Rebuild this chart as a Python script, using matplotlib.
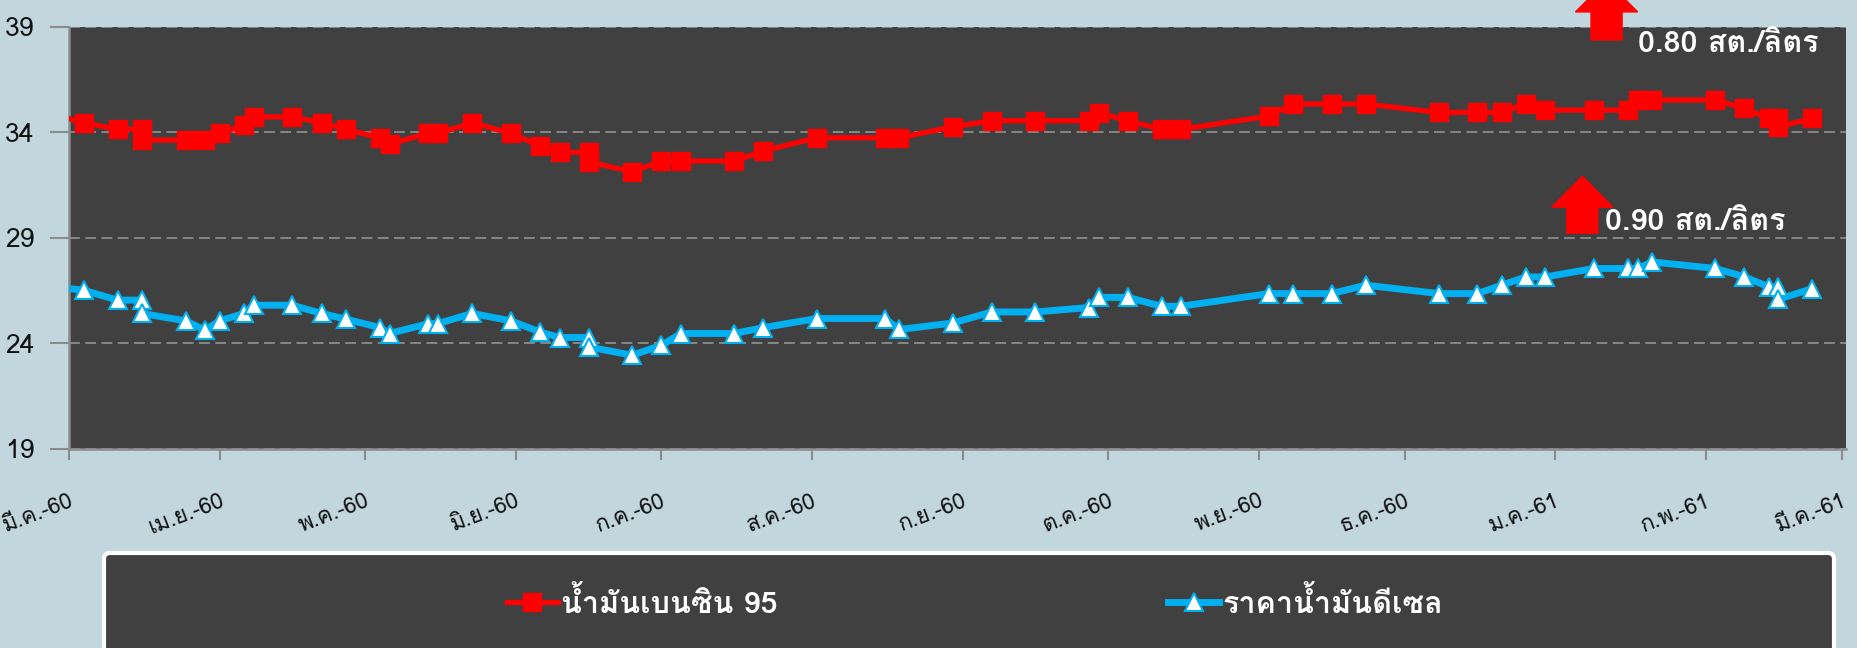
import matplotlib
matplotlib.use('Agg')
import matplotlib.pyplot as plt
import matplotlib.dates as mdates
from matplotlib import font_manager
from matplotlib.patches import FancyArrow, FancyBboxPatch
from matplotlib.transforms import IdentityTransform, ScaledTranslation
import numpy as np

# price data (baht/litre)
dates = ['2017-02-25', '2017-03-04', '2017-03-11', '2017-03-16', '2017-03-16',
         '2017-03-25', '2017-03-29', '2017-04-01', '2017-04-06', '2017-04-08',
         '2017-04-16', '2017-04-22', '2017-04-27', '2017-05-04', '2017-05-06',
         '2017-05-14', '2017-05-16', '2017-05-23', '2017-05-31', '2017-06-06',
         '2017-06-10', '2017-06-16', '2017-06-16', '2017-06-25', '2017-07-01',
         '2017-07-05', '2017-07-16', '2017-07-22', '2017-08-02', '2017-08-16',
         '2017-08-19', '2017-08-30', '2017-09-07', '2017-09-16', '2017-09-27',
         '2017-09-29', '2017-10-05', '2017-10-12', '2017-10-16', '2017-11-03',
         '2017-11-08', '2017-11-16', '2017-11-23', '2017-12-08', '2017-12-16',
         '2017-12-21', '2017-12-26', '2017-12-30', '2018-01-09', '2018-01-16',
         '2018-01-18', '2018-01-21', '2018-02-03', '2018-02-09', '2018-02-14',
         '2018-02-16', '2018-02-16', '2018-02-23']
benzin95 = [34.90, 34.45, 34.14, 34.14, 33.63, 33.63, 33.63, 33.95, 34.34, 34.73,
            34.73, 34.45, 34.14, 33.74, 33.44, 33.95, 33.95, 34.45, 33.95, 33.35,
            33.05, 33.05, 32.60, 32.13, 32.64, 32.64, 32.64, 33.12, 33.74, 33.74,
            33.74, 34.26, 34.55, 34.55, 34.55, 34.92, 34.55, 34.14, 34.14, 34.77,
            35.34, 35.34, 35.34, 34.94, 34.94, 34.94, 35.34, 35.05, 35.05, 35.05,
            35.53, 35.53, 35.53, 35.13, 34.66, 34.66, 34.26, 34.66]
diesel = [26.70, 26.52, 26.05, 26.05, 25.42, 25.07, 24.63, 25.07, 25.42, 25.81,
          25.81, 25.42, 25.15, 24.75, 24.47, 24.94, 24.94, 25.42, 25.07, 24.54,
          24.28, 24.28, 23.83, 23.44, 23.91, 24.47, 24.47, 24.75, 25.18, 25.18,
          24.66, 24.97, 25.49, 25.49, 25.70, 26.18, 26.18, 25.76, 25.76, 26.36,
          26.36, 26.36, 26.76, 26.36, 26.36, 26.76, 27.15, 27.15, 27.55, 27.55,
          27.55, 27.86, 27.55, 27.15, 26.68, 26.68, 26.09, 26.60]

month_ticks = ['2017-03-01', '2017-04-01', '2017-05-01', '2017-06-01', '2017-07-01',
               '2017-08-01', '2017-09-01', '2017-10-01', '2017-11-01', '2017-12-01',
               '2018-01-01', '2018-02-01', '2018-03-01']
month_labels = ['มี.ค.-60', 'เม.ย.-60', 'พ.ค.-60', 'มิ.ย.-60', 'ก.ค.-60', 'ส.ค.-60',
                'ก.ย.-60', 'ต.ค.-60', 'พ.ย.-60', 'ธ.ค.-60', 'ม.ค.-61', 'ก.พ.-61',
                'มี.ค.-61']
y_ticks = [19, 24, 29, 34, 39]

series_names = ['น้ำมันเบนซิน 95', 'ราคาน้ำมันดีเซล']
change_labels = ['0.80 สต./ลิตร', '0.90 สต./ลิตร']

BG = '#C1D6DD'
PLOT_BG = '#404040'
RED = '#FF0000'
BLUE = '#00B0F0'
GREY = '#8C8C8C'


def find_thai_font():
    """Return the name of an installed font that has Thai glyphs."""
    try:
        from fontTools.ttLib import TTFont
    except ImportError:
        return None
    for f in font_manager.fontManager.ttflist:
        try:
            font = TTFont(f.fname, fontNumber=0, lazy=True)
            cmap = font.getBestCmap()
        except Exception:
            continue
        if cmap and 0x0E19 in cmap and 0x0030 in cmap:
            return f.name
    return None


thai = find_thai_font()
families = [thai, 'DejaVu Sans'] if thai else ['DejaVu Sans']
plt.rcParams['font.family'] = families

x = mdates.date2num(np.array(dates, dtype='datetime64[D]'))
tick_x = mdates.date2num(np.array(month_ticks, dtype='datetime64[D]'))

fig = plt.figure(figsize=(18.58, 6.48), dpi=100, facecolor=BG)
ax = fig.add_axes([69 / 1858, 1 - 449 / 648, 1777 / 1858, 422.3 / 648])
ax.set_facecolor(PLOT_BG)

line_b, = ax.plot(x, benzin95, color=RED, lw=3.8, marker='s', markersize=13,
                  markerfacecolor=RED, markeredgecolor=RED, zorder=3,
                  label=series_names[0])
line_d, = ax.plot(x, diesel, color=BLUE, lw=5, marker='^', markersize=13,
                  markerfacecolor='white', markeredgecolor=BLUE, markeredgewidth=1.5,
                  zorder=3, label=series_names[1])

ax.set_xlim(tick_x[0], tick_x[-1] + 0.9)
ax.set_ylim(19, 39)
ax.set_yticks(y_ticks)
ax.set_xticks(tick_x)
ax.set_xticklabels(month_labels, rotation=21, ha='right', va='top',
                   rotation_mode='anchor')
# labels sit a little to the right of their tick, as in the original
shift = ScaledTranslation(9 / 100, 0, fig.dpi_scale_trans)
for lab in ax.get_xticklabels():
    lab.set_transform(lab.get_transform() + shift)

ax.grid(axis='y', color=GREY, lw=1.3, dashes=(6, 3))
ax.set_axisbelow(True)

for side in ['top', 'right']:
    ax.spines[side].set_visible(False)
for side in ['left', 'bottom']:
    ax.spines[side].set_color(GREY)
    ax.spines[side].set_linewidth(1.8)

ax.tick_params(axis='y', length=14, width=1.5, color=GREY, pad=11, labelsize=19,
               labelcolor='#111111')
ax.tick_params(axis='x', length=8, width=1.5, color=GREY, pad=22, labelsize=16,
               labelcolor='#111111')

# red "price up" arrows with the change amounts
arrow_x = mdates.date2num(np.array(['2018-01-06', '2018-01-11'], dtype='datetime64[D]'))
ax.add_patch(FancyArrow(arrow_x[1] + 0.6, 38.37, 0, 2.8, width=6.4, head_width=12.8,
                        head_length=1.47, length_includes_head=True, color=RED,
                        clip_on=False, zorder=6))
ax.add_patch(FancyArrow(arrow_x[0] + 0.6, 29.22, 0, 2.7, width=6.4, head_width=12.6,
                        head_length=1.47, length_includes_head=True, color=RED,
                        clip_on=False, zorder=6))
ax.text(arrow_x[1] + 7.0, 38.2, change_labels[0], color='white', fontsize=22,
        fontweight='bold', ha='left', va='center', zorder=7)
ax.text(arrow_x[0] + 5.2, 29.74, change_labels[1], color='white', fontsize=22,
        fontweight='bold', ha='left', va='center', zorder=7)

# legend panel at the bottom
fig.add_artist(FancyBboxPatch((104, -60), 1730, 155,
                              boxstyle='round,pad=0,rounding_size=6',
                              transform=IdentityTransform(), facecolor=PLOT_BG,
                              edgecolor='white', linewidth=3, zorder=1))
leg = fig.legend(handles=[line_b, line_d], labels=series_names, loc='center',
                 bbox_to_anchor=(975 / 1858, 1 - 603 / 648), ncol=2, frameon=False,
                 columnspacing=12.8, handlelength=1.66, handletextpad=0.1,
                 prop={'size': 22, 'weight': 'bold'}, labelcolor='white',
                 numpoints=1)
leg.set_zorder(5)

fig.savefig('out.png', dpi=100, facecolor=BG)
